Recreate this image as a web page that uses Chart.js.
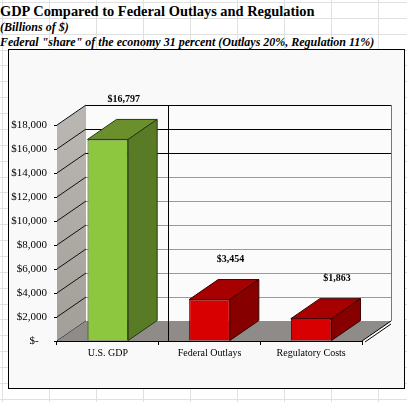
<!DOCTYPE html>
<html>
<head>
<meta charset="utf-8">
<script src="https://cdn.jsdelivr.net/npm/chart.js@4.4.0/dist/chart.umd.min.js"></script>
<style>
  html, body { margin: 0; padding: 0; }
  body {
    width: 407px; height: 402px; position: relative; overflow: hidden;
    background-color: #fff;
    background-image:
      repeating-linear-gradient(to bottom, #e0e0e0 0 1px, transparent 1px 15.87px),
      repeating-linear-gradient(to right, #e0e0e0 0 1px, transparent 1px 47px);
    background-position: 0 2px, 2px 0;
    font-family: "Liberation Serif", "Times New Roman", serif;
  }
  .t { position: absolute; left: 0; white-space: nowrap; color: #000; font-weight: bold; line-height: 1; transform-origin: 0 0; }
  #title { top: 3px; font-size: 15.5px; transform: scaleX(0.93); }
  #sub1 { top: 21px; font-size: 12px; font-style: italic; }
  #sub2 { top: 36px; font-size: 12px; font-style: italic; }
  #box {
    position: absolute; left: 8px; top: 49px; width: 395px; height: 338px;
    border: 1px solid #000; background: #f9f9f9;
  }
  #chart { position: absolute; left: 0; top: 0; }
</style>
</head>
<body>
<div class="t" id="title">GDP Compared to Federal Outlays and Regulation</div>
<div class="t" id="sub1">(Billions of $)</div>
<div class="t" id="sub2">Federal "share" of the economy 31 percent (Outlays 20%, Regulation 11%)</div>
<div id="box"></div>
<canvas id="chart" width="407" height="402"></canvas>
<script>
// Chart data (billions of $)
const categories = ['U.S. GDP', 'Federal Outlays', 'Regulatory Costs'];
const values = [16797, 3454, 1863];
const yTicks = [0, 2000, 4000, 6000, 8000, 10000, 12000, 14000, 16000, 18000];

// Face colours for each bar: front, top, side
const frontColors = ['#8dc63f', '#d80000', '#d80000'];
const topColors = ['#6c8f2e', '#a60000', '#a60000'];
const sideColors = ['#5a7b26', '#860000', '#860000'];
const edgeColors = ['#263a0c', '#3a0000', '#3a0000'];

// 3D depth offset in pixels
const DX = 29;
const DY = -20;

function formatDollars(v) {
  if (v === 0) return '$-   ';
  return '$' + v.toLocaleString('en-US');
}

/**
 * Draws the side wall, back wall and floor behind the bars
 */
const wallsPlugin = {
  id: 'walls',
  beforeDatasetsDraw(chart) {
    const ctx = chart.ctx;
    const area = chart.chartArea;
    const y = chart.scales.y;
    const L = area.left, R = area.right, T = area.top, B = area.bottom;

    ctx.save();

    // back wall
    ctx.fillStyle = '#fbfbfb';
    ctx.fillRect(L + DX, T + DY, R - L, B - T);

    // back wall grid lines
    yTicks.forEach((v) => {
      const py = Math.round(y.getPixelForValue(v) + DY) + 0.5;
      ctx.strokeStyle = v >= 14000 ? '#000' : '#9a9a9a';
      ctx.lineWidth = 1;
      ctx.beginPath();
      ctx.moveTo(L + DX, py);
      ctx.lineTo(R + DX, py);
      ctx.stroke();
    });
    ctx.strokeStyle = '#777';
    ctx.beginPath();
    ctx.moveTo(R + DX + 0.5, T + DY);
    ctx.lineTo(R + DX + 0.5, B + DY);
    ctx.stroke();

    // side wall
    const grad = ctx.createLinearGradient(0, T, 0, B);
    grad.addColorStop(0, '#b9b6b1');
    grad.addColorStop(1, '#a29e98');
    ctx.fillStyle = grad;
    ctx.beginPath();
    ctx.moveTo(L, B);
    ctx.lineTo(L, T);
    ctx.lineTo(L + DX, T + DY);
    ctx.lineTo(L + DX, B + DY);
    ctx.closePath();
    ctx.fill();

    // side wall grid lines
    ctx.strokeStyle = '#111';
    yTicks.forEach((v) => {
      const py = y.getPixelForValue(v);
      ctx.beginPath();
      ctx.moveTo(L, py);
      ctx.lineTo(L + DX, py + DY);
      ctx.stroke();
    });

    // floor
    ctx.fillStyle = '#8e8b88';
    ctx.beginPath();
    ctx.moveTo(L, B);
    ctx.lineTo(R, B);
    ctx.lineTo(R + DX, B + DY);
    ctx.lineTo(L + DX, B + DY);
    ctx.closePath();
    ctx.fill();

    // floor edge (thin slab)
    ctx.strokeStyle = '#000';
    ctx.beginPath();
    ctx.moveTo(R, B);
    ctx.lineTo(R + DX, B + DY);
    ctx.moveTo(R + 3, B + 1);
    ctx.lineTo(R + DX, B + DY + 3);
    ctx.stroke();

    // stray vertical line seen in the original sheet
    const vx = Math.round(L + (R - L) * 0.364) + 0.5;
    ctx.strokeStyle = '#000';
    ctx.beginPath();
    ctx.moveTo(vx, T + DY);
    ctx.lineTo(vx, B + 1);
    ctx.stroke();

    ctx.restore();
  },

  /**
   * Adds top and side faces to each bar plus the value labels
   */
  afterDatasetsDraw(chart) {
    const ctx = chart.ctx;
    const meta = chart.getDatasetMeta(0);

    ctx.save();
    ctx.lineWidth = 1;
    meta.data.forEach((bar, i) => {
      const left = bar.x - bar.width / 2;
      const right = bar.x + bar.width / 2;
      const top = bar.y;
      const base = bar.base;

      // top face
      ctx.fillStyle = topColors[i];
      ctx.strokeStyle = edgeColors[i];
      ctx.beginPath();
      ctx.moveTo(left, top);
      ctx.lineTo(left + DX, top + DY);
      ctx.lineTo(right + DX, top + DY);
      ctx.lineTo(right, top);
      ctx.closePath();
      ctx.fill();
      ctx.stroke();

      // side face
      ctx.fillStyle = sideColors[i];
      ctx.beginPath();
      ctx.moveTo(right, top);
      ctx.lineTo(right + DX, top + DY);
      ctx.lineTo(right + DX, base + DY);
      ctx.lineTo(right, base);
      ctx.closePath();
      ctx.fill();
      ctx.stroke();

      // value label
      ctx.fillStyle = '#000';
      ctx.font = 'bold 10px "Liberation Serif", serif';
      ctx.textAlign = 'center';
      ctx.textBaseline = 'middle';
      ctx.fillText(formatDollars(values[i]), bar.x + DX * 0.55 + i * 5, top - 40);
    });
    ctx.restore();
  },
};

const ctx = document.getElementById('chart').getContext('2d');
new Chart(ctx, {
  type: 'bar',
  data: {
    labels: categories,
    datasets: [
      {
        data: values,
        backgroundColor: frontColors,
        borderColor: edgeColors,
        borderWidth: 1,
        barPercentage: 0.4,
        categoryPercentage: 1.0,
      },
    ],
  },
  options: {
    responsive: false,
    animation: false,
    devicePixelRatio: 1,
    layout: { padding: { top: 125, left: 0, right: 45, bottom: 0 } },
    plugins: {
      legend: { display: false },
      tooltip: { enabled: false },
    },
    scales: {
      x: {
        afterFit: (axis) => { axis.height = 61; },
        grid: { display: true, drawOnChartArea: false, offset: true, color: '#000', tickLength: 4 },
        border: { display: true, color: '#000', width: 1 },
        ticks: {
          color: '#000',
          padding: 2,
          maxRotation: 0,
          font: { family: '"Liberation Serif", serif', size: 10 },
        },
      },
      y: {
        min: 0,
        max: 18000,
        afterFit: (axis) => { axis.width = 57; },
        afterBuildTicks: (axis) => { axis.ticks = yTicks.map((v) => ({ value: v })); },
        grid: { display: true, drawOnChartArea: false, color: '#000', tickLength: 3 },
        border: { display: true, color: '#000', width: 1, dash: [1, 1] },
        ticks: {
          color: '#000',
          padding: 7,
          callback: (v) => formatDollars(v),
          font: { family: '"Liberation Serif", serif', size: 11 },
        },
      },
    },
  },
  plugins: [wallsPlugin],
});
</script>
</body>
</html>
